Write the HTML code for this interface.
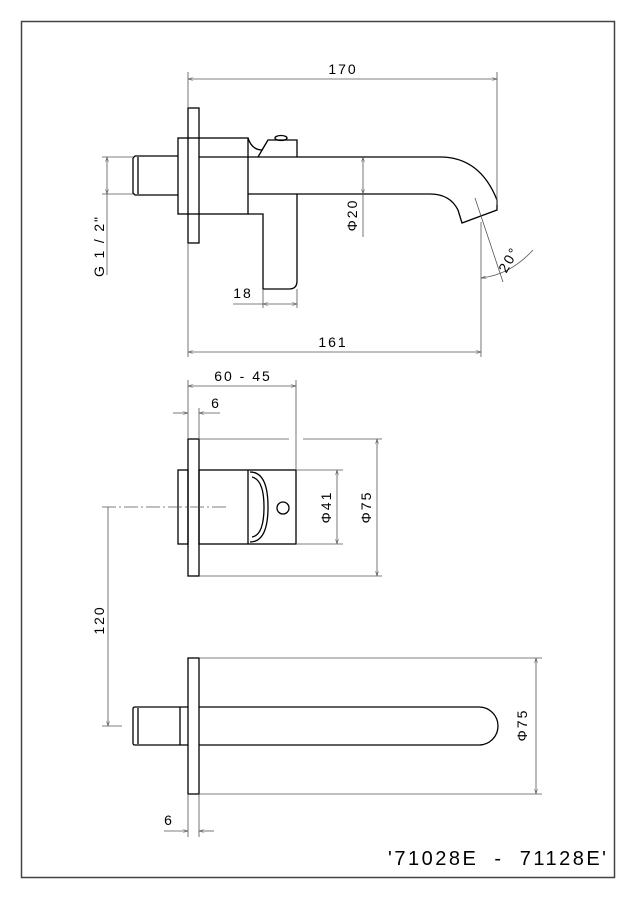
<!DOCTYPE html>
<html><head><meta charset="utf-8"><style>
html,body{margin:0;padding:0;background:#fff;width:636px;height:900px;overflow:hidden}
svg{display:block}
text{font-family:"Liberation Sans",sans-serif;fill:#000}
</style></head><body>
<svg width="636" height="900" viewBox="0 0 636 900" xmlns="http://www.w3.org/2000/svg">
<defs>
<marker id="a" viewBox="0 0 10 6" refX="10" refY="3" markerWidth="7" markerHeight="4" orient="auto-start-reverse"><path d="M0,0 L10,3 L0,6" fill="none" stroke="#555" stroke-width="1"/></marker>
</defs>
<rect x="21.5" y="21.5" width="593" height="856" fill="none" stroke="#444" stroke-width="1.5"/>

<g fill="none" stroke="#000" stroke-width="1.3">
<rect x="188" y="108" width="11" height="135"/>
<rect x="178" y="138" width="70" height="76"/>
<path d="M133,158 L133,193 L135,195 L178,195 M133,158 L135,156 L178,156 M138,157 V194"/>
<path d="M199,157 H440 Q480,157 497,200 L497,210 L462,223 L458,210 Q450,194 430,194 H248"/>
<path d="M248,138 Q252,150 262,150 L268,140 H297 V157 M258,157 L268,140"/>
<ellipse cx="281" cy="138" rx="6" ry="2.5"/>
<path d="M248,214 H263 V289 H289 Q297,289 297,281 V194"/>
<rect x="188" y="439" width="11" height="137"/>
<rect x="178" y="470" width="10" height="74"/>
<rect x="199" y="470" width="97" height="74"/>
<path d="M248,470 V544 M250,472 Q268,472 268,507 Q268,542 250,542 M252,477 Q264,480 264,507 Q264,535 252,537"/>
<circle cx="283" cy="508" r="6"/>
<rect x="188" y="658" width="11" height="136"/>
<path d="M180,707 V745 M188,707 H180 M188,745 H180"/>
<path d="M180,707 H135 Q133,707 133,709 V743 Q133,745 135,745 H180 M138,708 V744"/>
<path d="M199,707 H479 A19,19 0 0 1 479,745 H199"/>
</g>

<g fill="none" stroke="#555" stroke-width="0.8">
<path d="M188,72 V108 M497,72 V205"/>
<line x1="188" y1="79" x2="497" y2="79" marker-start="url(#a)" marker-end="url(#a)"/>
<path d="M102,157 H133 M102,194 H133"/>
<line x1="107" y1="157" x2="107" y2="194" marker-start="url(#a)" marker-end="url(#a)"/>
<line x1="107" y1="194" x2="107" y2="275"/>
<line x1="363" y1="157" x2="363" y2="194" marker-start="url(#a)" marker-end="url(#a)"/>
<line x1="363" y1="194" x2="363" y2="237"/>
<path d="M263,289 V308 M297,289 V308"/>
<line x1="233" y1="304" x2="263" y2="304"/>
<line x1="263" y1="304" x2="297" y2="304" marker-start="url(#a)" marker-end="url(#a)"/>
<path d="M188,243 V357 M481,222 V357"/>
<line x1="188" y1="352" x2="481" y2="352" marker-start="url(#a)" marker-end="url(#a)"/>
<path d="M475,198 L503,282"/>
<path d="M481,278 Q510,275 533,250" marker-start="url(#a)"/>
<path d="M188,380 V439 M296,380 V470"/>
<line x1="188" y1="386" x2="296" y2="386" marker-start="url(#a)" marker-end="url(#a)"/>
<path d="M199,408 V439"/>
<line x1="173" y1="413" x2="188" y2="413" marker-end="url(#a)"/>
<line x1="220" y1="413" x2="199" y2="413" marker-end="url(#a)"/>
<path d="M102,507 H227" stroke-dasharray="14,3,2,3"/>
<path d="M199,439 H289 M303,439 H382 M199,576 H382 M296,470 H343 M296,544 H343"/>
<line x1="337" y1="470" x2="337" y2="544" marker-start="url(#a)" marker-end="url(#a)"/>
<line x1="377" y1="439" x2="377" y2="576" marker-start="url(#a)" marker-end="url(#a)"/>
<line x1="108" y1="507" x2="108" y2="726" marker-end="url(#a)"/>
<path d="M102,726 H122"/>
<path d="M199,658 H542 M199,794 H542"/>
<line x1="536" y1="658" x2="536" y2="794" marker-start="url(#a)" marker-end="url(#a)"/>
<path d="M188,794 V837 M199,794 V837"/>
<line x1="164" y1="831" x2="188" y2="831" marker-end="url(#a)"/>
<line x1="214" y1="831" x2="199" y2="831" marker-end="url(#a)"/>
</g>

<g font-size="14" letter-spacing="2">
<text x="343" y="74" text-anchor="middle">170</text>
<text x="333" y="347" text-anchor="middle">161</text>
<text x="243" y="298" text-anchor="middle">18</text>
<text x="243" y="381" text-anchor="middle">60 - 45</text>
<text x="216" y="408" text-anchor="middle">6</text>
<text x="169" y="825" text-anchor="middle">6</text>
<text transform="translate(104,277) rotate(-90)" textLength="62" lengthAdjust="spacing" xml:space="preserve">G 1 / 2"</text>
<text transform="translate(357,215) rotate(-90)" text-anchor="middle">Φ20</text>
<text transform="translate(331,507) rotate(-90)" text-anchor="middle">Φ41</text>
<text transform="translate(371,507) rotate(-90)" text-anchor="middle">Φ75</text>
<text transform="translate(527,725) rotate(-90)" text-anchor="middle">Φ75</text>
<text transform="translate(104,620) rotate(-90)" text-anchor="middle">120</text>
<text transform="translate(513,262) rotate(-60)" text-anchor="middle">20°</text>
</g>
<text x="388" y="865" font-size="20" textLength="218" lengthAdjust="spacing" xml:space="preserve">'71028E  -  71128E'</text>
</svg>
</body></html>
